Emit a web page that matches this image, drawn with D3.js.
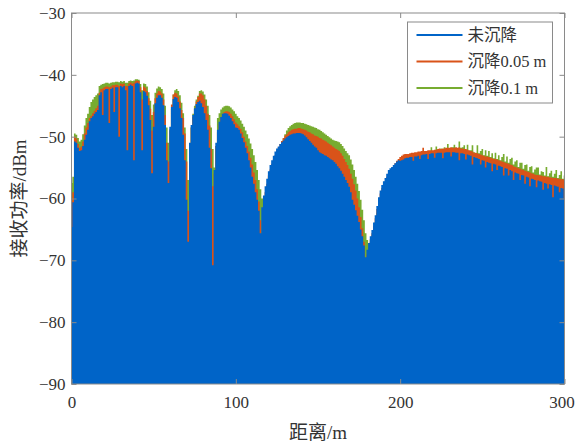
<!DOCTYPE html>
<html lang="zh">
<head>
<meta charset="utf-8">
<title>接收功率与距离</title>
<script src="https://cdn.jsdelivr.net/npm/d3@7"></script>
<style>
  body { margin: 0; background: #fff; }
  text { font-family: "Liberation Serif", "Noto Sans CJK SC", serif; fill: #333; }
</style>
</head>
<body>
<div id="chart"></div>
<script>
// distance samples, 1 m apart
const dist = d3.range(0, 301);

// 未沉降
const noSettle = [
  -64.6, -60.6, -50.8, -51.0, -51.8, -52.3, -52.2, -51.5, -50.5, -49.7,
  -48.9, -47.5, -47.0, -46.7, -46.3, -46.0, -45.7, -43.3, -42.8, -46.5,
  -42.5, -42.3, -42.3, -47.8, -42.3, -42.1, -46.0, -42.0, -42.0, -50.0,
  -41.8, -42.0, -41.8, -42.5, -52.2, -41.8, -41.6, -41.8, -53.8, -41.4,
  -41.3, -41.4, -42.8, -52.2, -42.6, -42.8, -43.4, -44.9, -47.3, -55.9,
  -48.4, -44.6, -43.7, -43.3, -43.3, -43.7, -44.9, -48.1, -53.8, -57.5,
  -48.4, -45.2, -43.9, -43.6, -43.7, -44.4, -45.4, -47.0, -49.7, -53.8,
  -60.2, -67.0, -51.0, -48.1, -46.5, -45.4, -44.7, -44.4, -44.2, -44.6,
  -45.2, -46.2, -47.3, -48.9, -51.8, -55.1, -70.8, -55.4, -51.0, -48.9,
  -47.6, -46.8, -46.3, -46.2, -46.2, -46.3, -46.6, -47.0, -47.5, -48.0,
  -48.5, -48.6, -48.9, -49.5, -50.2, -50.9, -51.8, -52.7, -53.8, -55.0,
  -56.5, -57.6, -59.0, -60.2, -62.0, -65.6, -61.4, -59.5, -58.0, -56.8,
  -55.6, -54.6, -53.8, -53.1, -52.4, -51.9, -51.6, -51.2, -50.9, -50.6,
  -50.3, -50.1, -49.9, -49.7, -49.6, -49.5, -49.5, -49.4, -49.4, -49.4,
  -49.5, -49.6, -49.8, -50.1, -50.4, -50.7, -51.0, -51.3, -51.6, -51.8,
  -52.2, -52.5, -52.7, -52.8, -53.0, -53.1, -53.3, -53.5, -53.7, -53.8,
  -54.1, -54.4, -54.8, -55.1, -55.5, -56.0, -56.5, -57.0, -57.5, -58.1,
  -59.0, -60.2, -61.0, -61.9, -62.8, -63.8, -65.0, -66.1, -67.6, -69.5,
  -68.3, -67.2, -66.1, -65.1, -63.9, -62.7, -61.2, -59.8, -58.7, -57.8,
  -57.2, -56.7, -56.0, -55.4, -55.1, -54.9, -54.6, -54.3, -54.0, -53.8,
  -53.9, -53.8, -53.7, -53.5, -53.4, -53.4, -53.3, -53.3, -53.9, -53.2,
  -53.2, -53.1, -53.6, -53.0, -52.9, -52.9, -52.8, -53.6, -52.8, -52.7,
  -52.7, -53.4, -52.7, -52.6, -52.6, -52.6, -53.5, -52.6, -52.5, -52.5,
  -52.5, -53.2, -52.5, -52.5, -52.6, -52.6, -53.8, -52.7, -52.7, -52.8,
  -53.7, -52.9, -53.0, -53.1, -54.5, -53.3, -53.4, -53.5, -53.6, -54.5,
  -53.8, -53.9, -55.0, -54.1, -54.2, -54.3, -55.6, -54.4, -54.5, -55.4,
  -54.7, -54.8, -54.9, -56.3, -55.1, -55.2, -56.3, -55.4, -55.6, -57.0,
  -55.8, -55.9, -56.0, -57.0, -56.2, -56.3, -57.6, -56.5, -56.6, -58.0,
  -56.8, -56.9, -57.0, -58.2, -57.1, -57.2, -57.3, -58.6, -57.5, -57.6,
  -58.4, -57.7, -57.8, -59.8, -57.9, -58.0, -58.1, -59.0, -58.3, -58.4,
  -60.0
];

// 沉降0.05 m
const settle005 = [
  -60.4, -59.0, -50.0, -50.3, -51.2, -51.8, -51.6, -50.8, -49.5, -48.5,
  -47.8, -47.0, -46.6, -46.2, -45.8, -45.4, -45.0, -42.9, -42.3, -42.2,
  -42.0, -41.9, -41.9, -42.0, -41.9, -41.7, -41.7, -41.6, -41.6, -41.8,
  -41.4, -41.5, -41.4, -41.8, -41.8, -41.4, -41.2, -41.4, -41.3, -41.0,
  -40.9, -41.0, -42.0, -44.0, -41.9, -42.1, -42.6, -43.8, -45.5, -49.0,
  -46.0, -43.8, -43.0, -42.6, -42.7, -43.0, -44.0, -46.5, -51.0, -54.0,
  -49.0, -44.8, -43.2, -42.9, -43.0, -43.5, -44.3, -45.7, -47.0, -49.5,
  -54.0, -62.0, -51.5, -48.5, -46.8, -45.5, -44.3, -43.6, -43.0, -43.0,
  -43.3, -44.0, -45.0, -46.3, -48.2, -52.0, -58.0, -56.0, -51.5, -49.3,
  -47.9, -46.9, -46.3, -46.0, -45.9, -45.9, -46.0, -46.3, -46.7, -47.2,
  -47.7, -48.0, -48.3, -48.7, -49.3, -50.0, -50.8, -51.5, -52.4, -53.4,
  -54.5, -55.8, -57.0, -58.5, -60.5, -63.5, -66.0, -62.0, -59.0, -57.6,
  -56.3, -55.3, -54.4, -53.7, -53.0, -52.2, -51.7, -51.2, -50.7, -50.2,
  -49.8, -49.6, -49.3, -49.1, -48.9, -48.8, -48.7, -48.7, -48.6, -48.6,
  -48.7, -48.8, -48.9, -49.0, -49.2, -49.3, -49.5, -49.6, -49.8, -49.9,
  -50.0, -50.2, -50.3, -50.5, -50.6, -50.8, -51.0, -51.2, -51.4, -51.6,
  -51.8, -52.0, -52.1, -52.3, -52.7, -53.1, -53.6, -54.1, -54.6, -55.2,
  -56.0, -56.8, -57.7, -58.7, -60.0, -61.4, -63.0, -64.8, -67.0, -70.0,
  -69.0, -68.0, -66.6, -65.6, -64.4, -63.2, -61.7, -60.3, -59.2, -58.3,
  -57.7, -57.2, -56.5, -55.9, -55.6, -55.4, -55.1, -54.3, -53.9, -53.6,
  -53.3, -53.1, -52.9, -52.8, -52.8, -52.8, -52.7, -52.6, -52.6, -52.5,
  -52.5, -52.4, -52.4, -52.3, -51.8, -52.3, -52.3, -52.2, -52.2, -52.2,
  -52.2, -52.1, -52.1, -52.0, -51.9, -52.0, -51.9, -51.9, -51.8, -51.8,
  -51.8, -51.7, -51.8, -51.8, -51.7, -51.8, -51.7, -51.9, -51.9, -52.0,
  -52.0, -52.1, -52.2, -52.3, -52.4, -52.6, -52.6, -52.7, -52.8, -52.9,
  -53.0, -53.1, -53.2, -53.2, -53.3, -53.4, -53.5, -53.6, -53.6, -53.7,
  -53.8, -53.9, -54.0, -54.1, -54.2, -54.3, -54.4, -54.5, -54.6, -54.8,
  -54.9, -55.0, -55.1, -55.2, -55.3, -55.4, -55.5, -55.6, -55.7, -55.8,
  -55.9, -56.0, -56.1, -56.2, -56.2, -56.3, -56.3, -56.4, -56.4, -56.5,
  -56.5, -56.6, -56.6, -56.7, -56.7, -56.7, -56.8, -56.8, -56.9, -56.9,
  -57.0
];

// 沉降0.1 m
const settle01 = [
  -57.5, -56.5, -49.5, -49.7, -50.2, -50.8, -50.5, -49.6, -48.2, -47.0,
  -46.3, -45.2, -44.4, -44.0, -43.6, -43.3, -43.0, -41.8, -41.6, -41.5,
  -41.4, -41.3, -41.3, -41.4, -41.3, -41.2, -41.2, -41.1, -41.1, -41.2,
  -41.0, -41.1, -41.0, -41.3, -41.3, -41.0, -40.9, -41.0, -40.9, -40.7,
  -40.7, -40.8, -41.5, -42.5, -41.4, -41.5, -41.9, -42.8, -44.2, -46.5,
  -44.8, -42.9, -42.2, -41.9, -42.0, -42.3, -43.0, -45.0, -48.5, -51.0,
  -48.8, -45.5, -43.2, -42.5, -42.3, -42.6, -43.3, -44.5, -46.2, -48.5,
  -52.0, -57.0, -52.0, -48.5, -46.3, -45.0, -44.0, -43.4, -42.6, -42.5,
  -42.7, -43.2, -44.0, -45.0, -46.5, -48.5, -52.0, -55.0, -51.5, -47.0,
  -46.2, -45.6, -45.3, -45.1, -45.0, -45.0, -45.1, -45.3, -45.6, -45.9,
  -46.3, -46.7, -47.0, -47.4, -47.9, -48.4, -49.0, -49.6, -50.3, -51.1,
  -52.0, -53.0, -54.1, -55.4, -57.0, -58.5, -60.0, -59.8, -60.0, -58.0,
  -56.6, -55.6, -54.8, -54.1, -53.4, -52.9, -52.4, -51.8, -51.0, -50.3,
  -49.6, -49.0, -48.6, -48.3, -48.1, -47.9, -47.8, -47.7, -47.7, -47.7,
  -47.8, -47.8, -47.9, -48.0, -48.1, -48.2, -48.3, -48.4, -48.5, -48.6,
  -48.8, -48.9, -49.1, -49.3, -49.5, -49.7, -49.9, -50.1, -50.3, -50.5,
  -50.6, -50.7, -50.8, -50.9, -51.2, -51.5, -51.9, -52.3, -52.7, -53.0,
  -53.7, -54.5, -55.4, -56.5, -57.6, -58.8, -60.2, -61.8, -63.5, -65.6,
  -66.7, -67.2, -67.0, -66.0, -65.0, -63.8, -62.3, -60.9, -59.8, -58.9,
  -58.2, -57.7, -57.0, -56.4, -56.1, -55.9, -55.6, -55.3, -55.0, -54.6,
  -53.6, -53.4, -53.3, -53.2, -53.2, -53.1, -53.0, -53.0, -52.9, -52.8,
  -52.8, -52.7, -52.6, -52.6, -52.3, -52.5, -52.5, -52.4, -52.3, -51.7,
  -52.3, -52.2, -51.6, -52.1, -52.0, -51.9, -52.0, -51.7, -51.9, -51.2,
  -51.9, -51.8, -51.7, -51.3, -51.8, -51.9, -50.8, -51.8, -51.7, -51.4,
  -52.1, -51.3, -52.3, -52.2, -51.4, -52.5, -52.7, -51.4, -52.7, -52.3,
  -52.0, -53.0, -52.2, -53.1, -52.3, -53.3, -52.7, -53.5, -52.6, -53.6,
  -53.0, -53.8, -53.3, -52.8, -54.0, -53.2, -54.2, -53.6, -53.4, -54.5,
  -54.0, -53.8, -54.9, -54.2, -54.2, -55.2, -54.6, -54.5, -55.5, -54.9,
  -54.8, -55.8, -55.3, -55.0, -55.0, -56.1, -55.6, -55.7, -56.3, -54.9,
  -56.4, -55.9, -55.5, -56.5, -56.0, -55.4, -56.7, -56.2, -55.6, -56.8,
  -56.3
];

const xTicks = [0, 100, 200, 300];
const yTicks = [-90, -80, -70, -60, -50, -40, -30];
const seriesNames = ["未沉降", "沉降0.05 m", "沉降0.1 m"];
const seriesColors = ["#0064c8", "#d95319", "#77ac30"];

var margin = { top: 13, right: 10.5, bottom: 59, left: 71.5 },
  width = 575 - margin.left - margin.right,
  height = 443 - margin.top - margin.bottom;

var svg = d3.select("#chart")
  .append("svg")
  .attr("width", 575)
  .attr("height", 443)
  .append("g")
  .attr("transform", "translate(" + margin.left + "," + margin.top + ")");

var x = d3.scaleLinear().domain([0, 300]).range([0, width]);
var y = d3.scaleLinear().domain([-90, -30]).range([height, 0]);

svg.append("clipPath").attr("id", "plotClip")
  .append("rect").attr("width", width).attr("height", height);

var area = d3.area()
  .x(function (d, i) { return x(dist[i]); })
  .y0(height)
  .y1(function (d) { return y(d); })
  .curve(d3.curveStep);

// back to front: 0.1 m, 0.05 m, none
var series = [settle01, settle005, noSettle];
var fills = [seriesColors[2], seriesColors[1], seriesColors[0]];
var plot = svg.append("g").attr("clip-path", "url(#plotClip)");
series.forEach(function (s, k) {
  plot.append("path")
    .datum(s)
    .attr("fill", fills[k])
    .attr("d", area);
});

// axes, MATLAB style: ticks inside, box all round
function styleAxis(g) {
  g.select(".domain").remove();
  g.selectAll(".tick line").attr("stroke", "#8a8a8a");
  g.selectAll(".tick text").style("font-size", "17px").attr("fill", "#333");
}
svg.append("g")
  .attr("transform", "translate(0," + height + ")")
  .call(d3.axisBottom(x).tickValues(xTicks).tickSizeInner(-5).tickSizeOuter(0).tickPadding(12))
  .call(styleAxis)
  .selectAll(".tick text")
  .attr("dx", function (d) { return d === 300 ? -3 : 0; });
svg.append("g")
  .call(d3.axisTop(x).tickValues(xTicks).tickSizeInner(-5).tickSizeOuter(0).tickFormat(""))
  .call(styleAxis);
svg.append("g")
  .call(d3.axisLeft(y).tickValues(yTicks).tickSizeInner(-5).tickSizeOuter(0).tickPadding(6))
  .call(styleAxis);
svg.append("g")
  .attr("transform", "translate(" + width + ",0)")
  .call(d3.axisRight(y).tickValues(yTicks).tickSizeInner(-5).tickSizeOuter(0).tickFormat(""))
  .call(styleAxis);

svg.append("rect")
  .attr("width", width).attr("height", height)
  .attr("fill", "none").attr("stroke", "#8a8a8a").attr("stroke-width", 1);

// axis titles
svg.append("text")
  .attr("x", width / 2).attr("y", height + 55)
  .attr("text-anchor", "middle")
  .style("font-size", "19px")
  .text("距离/m");
svg.append("text")
  .attr("transform", "translate(" + (-46) + "," + (height / 2) + ") rotate(-90)")
  .attr("text-anchor", "middle")
  .style("font-size", "19px")
  .text("接收功率/dBm");

// legend
var legend = svg.append("g").attr("transform", "translate(" + (407.5 - margin.left) + "," + (22 - margin.top) + ")");
legend.append("rect")
  .attr("width", 145).attr("height", 81)
  .attr("fill", "#fff").attr("stroke", "#8a8a8a");
seriesNames.forEach(function (name, i) {
  var ly = 13 + i * 26.5;
  legend.append("line")
    .attr("x1", 9).attr("x2", 55).attr("y1", ly).attr("y2", ly)
    .attr("stroke", seriesColors[i]).attr("stroke-width", 2.2);
  legend.append("text")
    .attr("x", 60).attr("y", ly).attr("dy", "0.35em")
    .style("font-size", "16.5px")
    .text(name);
});
</script>
</body>
</html>
